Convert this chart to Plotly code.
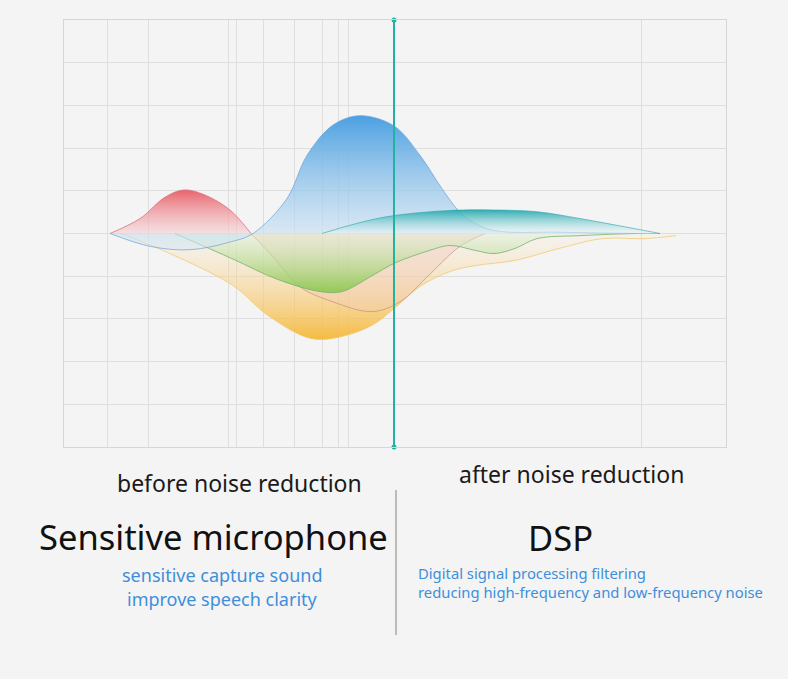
import plotly.graph_objects as go

W, H = 788, 679

# curve samples (x in pixel-like units, y in grid units)
red_x = [110, 140, 165, 184, 205, 230, 251]
red_y = [0.0, 0.35, 0.85, 1.02, 0.9, 0.55, 0.0]

red_neg_x = [251, 275, 300, 333, 372, 400, 430, 460, 485]
red_neg_y = [0.0, -0.6, -1.25, -1.6, -1.83, -1.6, -0.95, -0.3, 0.0]

blue_x = [110, 150, 190, 230, 253, 287, 307, 333, 360, 394, 420, 442, 459, 472, 494, 560, 637]
blue_y = [0.0, -0.3, -0.38, -0.2, 0.0, 0.82, 1.83, 2.54, 2.76, 2.52, 1.83, 1.05, 0.52, 0.28, 0.07, 0.03, 0.0]

teal_x = [322, 364, 394, 450, 494, 537, 580, 624, 660]
teal_y = [0.0, 0.28, 0.42, 0.54, 0.55, 0.51, 0.35, 0.16, 0.0]

green_x = [175, 233, 277, 320, 342, 372, 394, 429, 450, 476, 494, 515, 537, 580, 637, 660]
green_y = [0.0, -0.6, -1.07, -1.36, -1.36, -0.99, -0.7, -0.4, -0.28, -0.4, -0.47, -0.35, -0.12, -0.05, 0.0, 0.0]

yellow_x = [121, 168, 233, 268, 311, 342, 372, 394, 420, 450, 476, 515, 559, 602, 645, 676]
yellow_y = [0.0, -0.45, -1.22, -1.92, -2.46, -2.41, -2.15, -1.76, -1.24, -0.89, -0.75, -0.63, -0.35, -0.12, -0.12, -0.05]

grid_x = [107, 148, 228, 236, 263, 294, 322, 338, 348, 641]
split_x = 394

fig = go.Figure()


def area(x, y, line_col, c_low, c_high):
    fig.add_trace(go.Scatter(
        x=x, y=y, mode='lines', line=dict(color=line_col, width=1, shape='spline'),
        fill='tozeroy',
        fillgradient=dict(type='vertical', colorscale=[[0, c_low], [1, c_high]],
                          start=min(y), stop=max(y)),
        hoverinfo='skip', showlegend=False))


area(yellow_x, yellow_y, 'rgba(240,200,110,0.75)', 'rgba(245,185,60,0.95)', 'rgba(250,230,200,0.15)')
area(red_neg_x, red_neg_y, 'rgba(200,140,130,0.7)', 'rgba(240,200,190,0.3)', 'rgba(240,200,185,0.45)')
area(green_x, green_y, 'rgba(110,175,110,0.75)', 'rgba(140,200,80,0.9)', 'rgba(225,240,215,0.45)')
area(red_x, red_y, 'rgba(215,110,120,0.75)', 'rgba(245,205,210,0.55)', 'rgba(232,92,100,0.95)')
area(blue_x, blue_y, 'rgba(110,160,215,0.7)', 'rgba(215,232,245,0.55)', 'rgba(75,160,225,1.0)')
area(teal_x, teal_y, 'rgba(40,165,170,0.6)', 'rgba(235,245,248,0.5)', 'rgba(40,170,175,0.95)')

fig.add_trace(go.Scatter(
    x=[split_x, split_x], y=[5, -5], mode='lines+markers',
    line=dict(color='#22b2a4', width=2), marker=dict(size=5, color='#22b2a4'),
    cliponaxis=False, hoverinfo='skip', showlegend=False))


def px(x):
    return x / W


def py(y):
    return 1 - y / H


annos = [
    ('before noise reduction', 239, 483, 23, '#1a1a1a', 'center'),
    ('after noise reduction', 571, 474, 23, '#1a1a1a', 'center'),
    ('Sensitive microphone', 214, 536, 34.5, '#111111', 'center'),
    ('DSP', 560, 537, 34.5, '#111111', 'center'),
    ('sensitive capture sound', 222, 575, 18, '#3d8fdb', 'center'),
    ('improve speech clarity', 222, 599, 18, '#3d8fdb', 'center'),
    ('Digital signal processing filtering', 416, 573, 14.8, '#3d8fdb', 'left'),
    ('reducing high-frequency and low-frequency noise', 416, 592, 14.8, '#3d8fdb', 'left'),
]
for text, x, y, size, color, align in annos:
    fig.add_annotation(x=px(x), y=py(y), xref='paper', yref='paper', text=text,
                       showarrow=False, xanchor=align, yanchor='middle',
                       font=dict(family='Noto Sans, Open Sans, sans-serif', size=size, color=color))

fig.add_shape(type='line', xref='paper', yref='paper',
              x0=px(396), x1=px(396), y0=py(490), y1=py(635),
              line=dict(color='#a8a8a8', width=1.5))

fig.update_xaxes(range=[64, 726], domain=[px(64), px(726)], tickvals=grid_x,
                 showticklabels=False, showgrid=True, gridcolor='#dedede', gridwidth=1,
                 zeroline=False, showline=True, linecolor='#d6d6d6', mirror=True, ticks='')
fig.update_yaxes(range=[-5, 5], domain=[py(447), py(20)], dtick=1, tick0=0,
                 showticklabels=False, showgrid=True, gridcolor='#dedede', gridwidth=1,
                 zeroline=False, showline=True, linecolor='#d6d6d6', mirror=True, ticks='')

fig.update_layout(width=W, height=H, margin=dict(l=0, r=0, t=0, b=0),
                  paper_bgcolor='#f4f4f4', plot_bgcolor='#f4f4f4', showlegend=False)

# drop the default page margin so the figure sits flush in the window
fig.write_html("out.html", config={'displayModeBar': False},
               post_script="document.body.style.margin='0';"
                           "document.body.style.background='#f4f4f4';"
                           "document.body.style.overflow='hidden';")
